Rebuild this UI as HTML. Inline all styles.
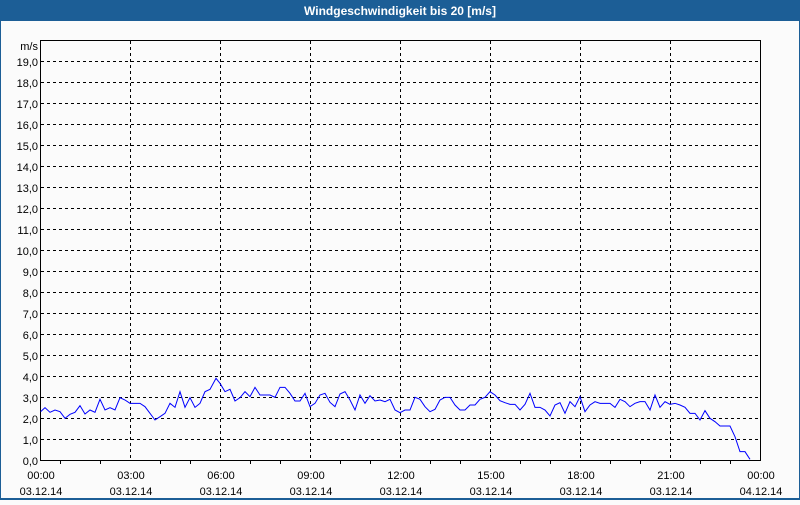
<!DOCTYPE html>
<html><head><style>
html,body{margin:0;padding:0;}
body{width:800px;height:500px;overflow:hidden;background:#fbfbfb;font-family:"Liberation Sans","DejaVu Sans",sans-serif;}
</style></head><body>
<svg width="800" height="500" xmlns="http://www.w3.org/2000/svg" font-family="Liberation Sans, DejaVu Sans, sans-serif">
<rect x="0" y="0" width="800" height="500" fill="#1c5e96"/>
<rect x="1" y="21" width="798" height="477" fill="#fbfbfb"/>
<text x="400" y="15" fill="#fff" font-size="12" font-weight="bold" text-anchor="middle">Windgeschwindigkeit bis 20 [m/s]</text>
<g stroke="#000" stroke-width="1" stroke-dasharray="3,3" shape-rendering="crispEdges">
<line x1="41" x2="760" y1="439.5" y2="439.5"/><line x1="41" x2="760" y1="418.5" y2="418.5"/><line x1="41" x2="760" y1="397.5" y2="397.5"/><line x1="41" x2="760" y1="376.5" y2="376.5"/><line x1="41" x2="760" y1="355.5" y2="355.5"/><line x1="41" x2="760" y1="334.5" y2="334.5"/><line x1="41" x2="760" y1="313.5" y2="313.5"/><line x1="41" x2="760" y1="292.5" y2="292.5"/><line x1="41" x2="760" y1="271.5" y2="271.5"/><line x1="41" x2="760" y1="250.5" y2="250.5"/><line x1="41" x2="760" y1="229.5" y2="229.5"/><line x1="41" x2="760" y1="208.5" y2="208.5"/><line x1="41" x2="760" y1="187.5" y2="187.5"/><line x1="41" x2="760" y1="166.5" y2="166.5"/><line x1="41" x2="760" y1="145.5" y2="145.5"/><line x1="41" x2="760" y1="124.5" y2="124.5"/><line x1="41" x2="760" y1="103.5" y2="103.5"/><line x1="41" x2="760" y1="82.5" y2="82.5"/><line x1="41" x2="760" y1="61.5" y2="61.5"/>
<line x1="130.5" x2="130.5" y1="41" y2="460"/><line x1="220.5" x2="220.5" y1="41" y2="460"/><line x1="310.5" x2="310.5" y1="41" y2="460"/><line x1="400.5" x2="400.5" y1="41" y2="460"/><line x1="490.5" x2="490.5" y1="41" y2="460"/><line x1="580.5" x2="580.5" y1="41" y2="460"/><line x1="670.5" x2="670.5" y1="41" y2="460"/>
</g>
<rect x="40.5" y="40.5" width="720" height="420" fill="none" stroke="#000" shape-rendering="crispEdges"/>
<g stroke="#000" shape-rendering="crispEdges">
<line x1="60.5" x2="60.5" y1="460" y2="464"/><line x1="100.5" x2="100.5" y1="460" y2="464"/><line x1="160.5" x2="160.5" y1="460" y2="464"/><line x1="190.5" x2="190.5" y1="460" y2="464"/><line x1="250.5" x2="250.5" y1="460" y2="464"/><line x1="280.5" x2="280.5" y1="460" y2="464"/><line x1="340.5" x2="340.5" y1="460" y2="464"/><line x1="370.5" x2="370.5" y1="460" y2="464"/><line x1="430.5" x2="430.5" y1="460" y2="464"/><line x1="460.5" x2="460.5" y1="460" y2="464"/><line x1="520.5" x2="520.5" y1="460" y2="464"/><line x1="550.5" x2="550.5" y1="460" y2="464"/><line x1="610.5" x2="610.5" y1="460" y2="464"/><line x1="640.5" x2="640.5" y1="460" y2="464"/><line x1="700.5" x2="700.5" y1="460" y2="464"/><line x1="730.5" x2="730.5" y1="460" y2="464"/>
</g>
<g font-size="11" fill="#000" text-anchor="end">
<text x="38" y="50">m/s</text>
<text x="38" y="465">0,0</text><text x="38" y="444">1,0</text><text x="38" y="423">2,0</text><text x="38" y="402">3,0</text><text x="38" y="381">4,0</text><text x="38" y="360">5,0</text><text x="38" y="339">6,0</text><text x="38" y="318">7,0</text><text x="38" y="297">8,0</text><text x="38" y="276">9,0</text><text x="38" y="255">10,0</text><text x="38" y="234">11,0</text><text x="38" y="213">12,0</text><text x="38" y="192">13,0</text><text x="38" y="171">14,0</text><text x="38" y="150">15,0</text><text x="38" y="129">16,0</text><text x="38" y="108">17,0</text><text x="38" y="87">18,0</text><text x="38" y="66">19,0</text>
</g>
<g font-size="11" fill="#000" text-anchor="middle">
<text x="41" y="479">00:00</text><text x="41" y="495">03.12.14</text>
<text x="131" y="479">03:00</text><text x="131" y="495">03.12.14</text>
<text x="221" y="479">06:00</text><text x="221" y="495">03.12.14</text>
<text x="311" y="479">09:00</text><text x="311" y="495">03.12.14</text>
<text x="401" y="479">12:00</text><text x="401" y="495">03.12.14</text>
<text x="491" y="479">15:00</text><text x="491" y="495">03.12.14</text>
<text x="581" y="479">18:00</text><text x="581" y="495">03.12.14</text>
<text x="671" y="479">21:00</text><text x="671" y="495">03.12.14</text>
<text x="761" y="479">00:00</text><text x="761" y="495">04.12.14</text>
</g>
<g transform="translate(0,360) scale(0.33333)">
<polyline fill="none" stroke="#0000ff" stroke-width="3" points="122,155 135,143 150,157 165,150 180,155 195,175 210,163 225,157 240,137 255,162 270,150 285,157 300,118 315,150 330,143 345,150 360,113 375,120 390,130 420,130 435,140 465,180 480,170 495,160 510,130 525,142 540,95 555,142 570,113 585,142 600,130 615,95 630,88 648,55 660,70 675,95 690,88 705,123 720,113 735,95 750,110 765,82 780,105 810,105 825,112 840,82 855,82 870,100 885,123 900,123 915,100 930,140 945,130 960,105 975,100 990,127 1005,140 1020,102 1035,95 1050,120 1065,150 1080,105 1095,130 1110,107 1125,123 1140,120 1155,125 1170,118 1185,150 1200,158 1215,150 1230,150 1245,112 1260,118 1275,140 1290,155 1305,148 1320,120 1335,112 1350,112 1365,135 1380,150 1395,150 1410,135 1425,135 1440,118 1455,112 1470,95 1485,105 1500,122 1515,128 1530,133 1545,133 1560,150 1575,133 1590,100 1605,142 1620,142 1635,150 1650,168 1665,135 1680,128 1695,160 1710,125 1725,140 1740,110 1755,155 1770,135 1785,125 1800,130 1815,130 1830,130 1845,142 1860,118 1875,125 1890,140 1905,130 1920,125 1935,125 1950,150 1965,105 1980,142 1995,125 2010,133 2025,130 2040,135 2055,142 2070,160 2085,160 2100,180 2115,152 2130,175 2145,185 2160,198 2190,198 2205,230 2220,275 2235,275 2250,298"/>
</g>
</svg>
</body></html>
